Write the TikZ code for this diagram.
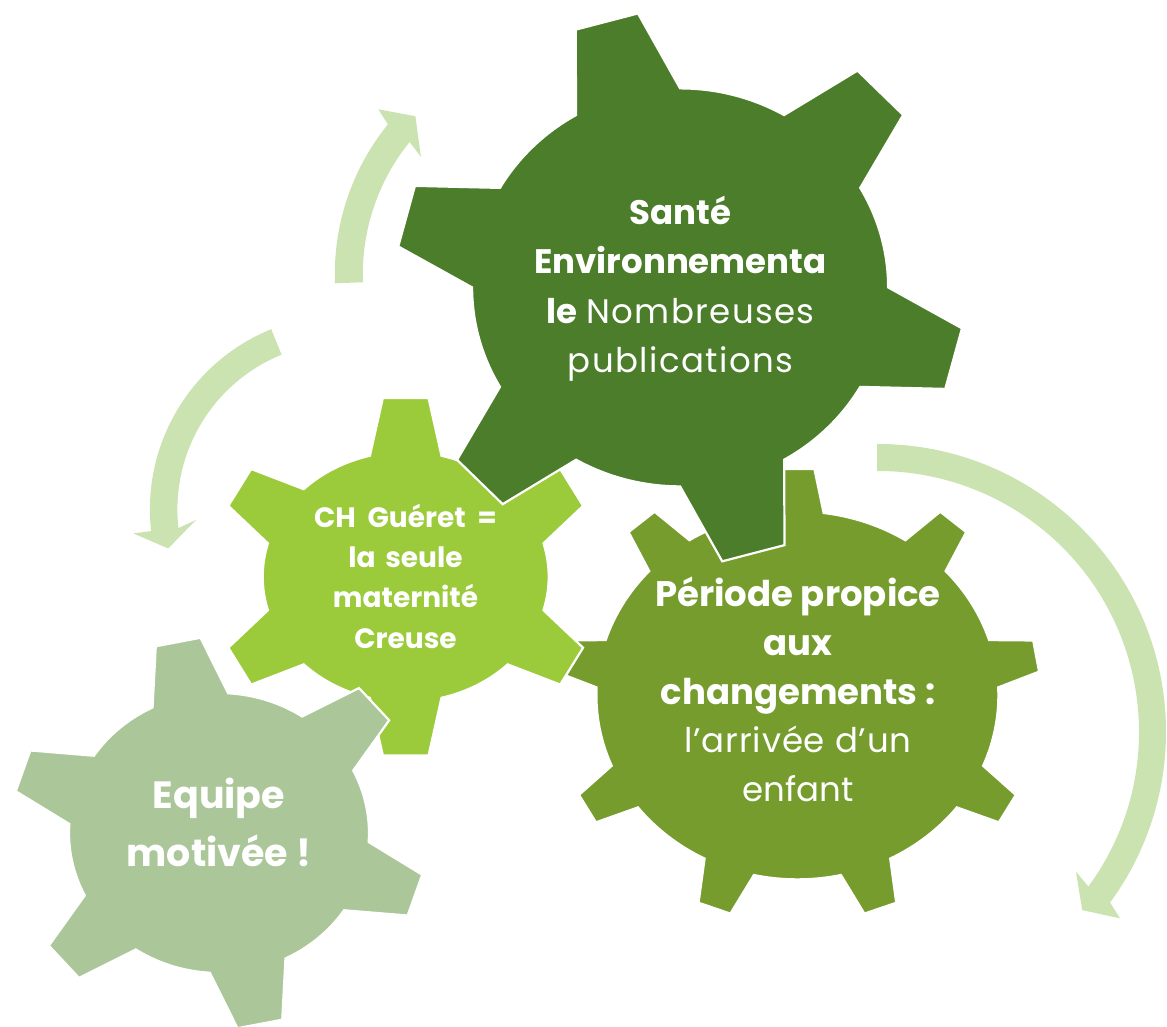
\documentclass[tikz,border=0pt]{standalone}
\usepackage{fontspec}
\setmainfont{Poppins}
\newfontfamily\regwide{Poppins}[LetterSpace=4]
\newfontfamily\regmid{Poppins}[LetterSpace=2.5]
\definecolor{gdark}{HTML}{4B7D2B}
\definecolor{gmid}{HTML}{759C2D}
\definecolor{glime}{HTML}{9BCB3B}
\definecolor{gsage}{HTML}{ABC799}
\definecolor{garrow}{HTML}{CBE2B1}
\pgfkeys{/gear/.cd,
  a/.store in=\ga, b/.store in=\gb, A/.store in=\gA, B/.store in=\gB,
  n/.store in=\gn, start/.store in=\gstart, base/.store in=\gbase, tip/.store in=\gtip}
\newcommand\drawgear[3]{%
  \pgfkeys{/gear/.cd,#1}%
  \pgfmathtruncatemacro\glast{\gn-1}%
  \pgfmathsetmacro\gstep{360/\gn}%
  \path[gearbox=#3, shift={#2}]
    ({\ga*cos(\gstart-\gbase)},{\gb*sin(\gstart-\gbase)})
    \foreach \k in {0,...,\glast}{
      -- ({\gA*cos(\gstart+\k*\gstep-\gtip)},{\gB*sin(\gstart+\k*\gstep-\gtip)})
      -- ({\gA*cos(\gstart+\k*\gstep+\gtip)},{\gB*sin(\gstart+\k*\gstep+\gtip)})
      -- ({\ga*cos(\gstart+\k*\gstep+\gbase)},{\gb*sin(\gstart+\k*\gstep+\gbase)})
      arc[start angle={\gstart+\k*\gstep+\gbase}, end angle={\gstart+(\k+1)*\gstep-\gbase}, x radius=\ga, y radius=\gb]
    } -- cycle;%
}
\tikzset{
  gearbox/.style={fill=#1, draw=white, line width=2.2pt, line join=miter},
  arrowshape/.style={fill=garrow},
  gtext/.style={text=white, align=center, inner sep=0pt, anchor=base},
}
\begin{document}
\begin{tikzpicture}[x=1pt,y=1pt]
\useasboundingbox (0,0) rectangle (1167,1027);
% curved arrows
\begin{scope}[shift={(572.8,752.8)}]
  \fill[arrowshape] (182.2:238) arc[start angle=182.2, end angle=141, radius=238]
    -- (139.7:255) -- (134.9:223) -- (142.3:192) -- (141:210)
    arc[start angle=141, end angle=182.2, radius=210] -- cycle;
\end{scope}
\begin{scope}[shift={(344.4,517.6)}]
  \fill[arrowshape] (112.1:194.5) arc[start angle=112.1, end angle=186.4, radius=194.5]
    -- (186.5:212.4) -- (192.5:180.5) -- (184.1:148.8) -- (186.4:167)
    arc[start angle=186.4, end angle=112.1, radius=167] -- cycle;
\end{scope}
\begin{scope}[shift={(878,295)}]
  \fill[arrowshape] (90.2:288) arc[start angle=90.2, end angle=-36.3, radius=288]
    -- (-37.6:305.4) -- (-41.1:271) -- (-35.2:242.3) -- (-36.3:261)
    arc[start angle=-36.3, end angle=90.2, radius=261] -- cycle;
\end{scope}
% gears
\drawgear{a=201,b=184,A=243,B=227,n=9,start=90,base=7.5,tip=4}{(797.4,331.6)}{gmid}
\drawgear{a=143,b=125,A=193,B=180,n=6,start=90,base=14.5,tip=6.8}{(405.7,450.2)}{glime}
\drawgear{a=208,b=199,A=285,B=277,n=6,start=105,base=15,tip=6.5}{(680.1,739.6)}{gdark}
\drawgear{a=150,b=140,A=208,B=196,n=6,start=101.4,base=14.9,tip=6.3}{(219,194)}{gsage}
% texts (anchor = baseline of the last line)
\node[gtext, font={\fontsize{34}{49.3}\selectfont}] (tdark) at (680.5,654.4)
  {\textbf{Santé}\\\textbf{Environnementa}\\\textbf{le} {\regwide Nombreuses}\\{\regwide publications}};
\node[gtext, font={\fontsize{28}{40.2}\selectfont\bfseries}] (tlime) at (405.5,378.8)
  {CH\hspace{0.42em}Guéret\hspace{0.42em}=\\la\hspace{0.34em}seule\\maternité\\Creuse};
\node[gtext, font={\fontsize{35.5}{48.7}\selectfont}] (tmid) at (798,225.3)
  {\textbf{Période propice}\\\textbf{aux}\\\textbf{changements :}\\{\regmid\fontsize{34}{48.7}\selectfont l’arrivée d’un}\\{\fontsize{34}{48.7}\selectfont enfant}};
\node[gtext, font={\fontsize{38}{58}\selectfont\bfseries}] (tsage) at (219,160.1)
  {Equipe\\motivée !};
\end{tikzpicture}
\end{document}
